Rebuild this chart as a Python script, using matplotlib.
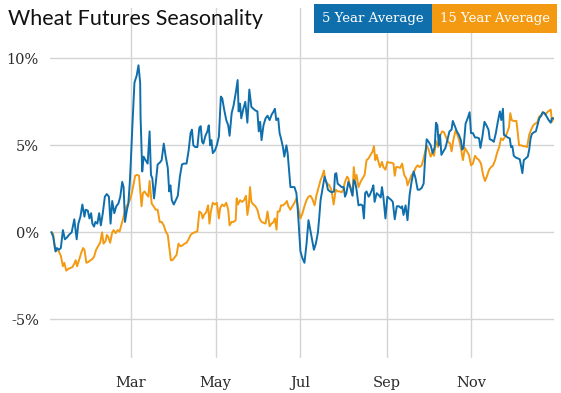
import matplotlib
matplotlib.use('Agg')
import matplotlib.pyplot as plt
from matplotlib.patches import Rectangle

# day of year -> cumulative % change
five_day = [1.8, 3.0, 4.7, 5.6, 7.1, 8.5, 10.0, 11.4, 12.9, 14.3, 16.3, 18.2, 19.9, 21.1, 22.6, 24.0, 25.5, 26.4,
            27.9, 29.1, 30.3, 31.2, 32.4, 33.4, 34.8, 36.1, 37.3, 38.7, 40.2, 41.6, 43.1, 44.3, 45.5, 47.0, 48.4,
            49.9, 51.3, 52.7, 53.7, 54.7, 56.1, 57.1, 58.1, 58.8, 60.0, 61.5, 63.1, 64.4, 65.6,
            65.9, 67.1, 68.1, 69.5, 71.0, 72.4, 73.4, 74.4, 75.6, 76.8, 78.2, 79.7, 81.1, 82.6, 84.0, 85.5, 86.5,
            87.4, 88.4, 89.8, 91.3, 92.7, 94.2, 95.7, 97.1, 99.0, 100.5, 101.9, 102.9, 103.9, 105.3, 106.8, 108.2,
            109.2, 110.2, 111.1, 112.6, 114.0, 115.0, 116.0, 116.9, 117.9, 119.4, 120.8, 122.3, 123.7, 124.7,
            126.1, 127.6, 129.0, 130.0, 131.5, 132.9, 134.4,
            135.8, 136.5, 137.5, 138.4, 139.9, 141.3, 142.8, 144.2, 145.7, 147.1, 148.6, 150.0, 151.0, 152.0,
            153.0, 154.4, 155.9, 157.3, 158.8, 160.2, 161.7, 162.6, 163.6, 165.0, 166.0, 167.0, 168.4, 169.4,
            170.9, 171.8, 172.8, 173.8, 175.2, 176.7, 178.1, 179.1, 180.1, 181.0, 182.5, 183.9, 185.4, 186.8,
            188.3, 189.7, 190.7, 192.1, 193.6, 194.6, 195.5, 197.0, 198.4, 199.9, 200.8, 202.3, 203.7, 205.2,
            205.9, 206.8, 207.8, 209.3, 210.7, 212.2, 213.1, 214.1, 215.5, 217.0, 218.5, 219.4, 220.4, 221.4,
            222.8, 224.3, 225.7, 226.7, 227.6, 228.6, 230.1, 231.0, 232.5, 233.5, 234.4, 235.9, 237.3, 238.8,
            239.7, 240.7, 242.2, 243.6, 245.1, 246.5, 247.5, 248.9, 250.4, 251.8, 253.3, 254.2, 255.2, 256.7,
            258.1, 259.6, 261.0, 262.5, 263.9, 265.4, 266.8, 268.3, 269.7, 270.7,
            271.9, 273.3, 274.8, 276.2, 277.7, 278.6, 279.6, 280.6, 281.5, 282.5, 283.9, 285.4, 286.8, 288.3,
            289.8, 290.7, 292.2, 293.6, 295.1, 296.5, 297.5, 298.5, 299.9, 301.4, 302.8, 303.8, 305.2, 306.7,
            308.1, 309.6, 310.6, 312.0, 313.5, 314.9, 316.4, 317.3, 318.8, 320.2, 321.7, 323.1, 324.6,
            325.6, 326.8, 327.5, 328.8, 330.2, 331.7, 332.6, 333.6, 334.6, 336.0, 337.5, 338.9, 339.9, 340.8,
            341.8, 343.3, 344.7, 345.7, 346.7, 347.6, 349.1, 350.5, 351.5, 352.9, 354.4, 355.4, 356.8, 358.3,
            359.7, 361.2, 362.1, 363.1]
five_pct = [0.0, -0.25, -1.1, -0.9, -1.0, -0.9, 0.13, -0.4, -0.3, -0.15, 0.0, 0.75, -0.4, 0.5, 0.9, 1.6, 0.9, 1.3,
            1.25, 0.8, 1.1, 0.5, 0.33, 0.6, 0.5, 1.1, 0.4, 1.1, 2.05, 2.2, 2.05, 0.5, 1.8, 1.1, 1.5,
            1.65, 2.05, 2.9, 2.6, 0.6, 1.3, 1.65, 2.8, 3.9, 6.1, 8.6, 9.0, 9.6, 8.6,
            6.65, 3.5, 4.35, 4.15, 3.95, 5.8, 3.3, 3.1, 1.95, 2.8, 3.9, 4.0, 4.15, 5.1, 4.35, 3.7, 2.35,
            2.7, 1.85, 1.6, 1.85, 2.1, 3.2, 3.9, 3.95, 3.95, 4.7, 5.7, 5.9, 5.0, 4.9, 4.9, 6.0,
            6.1, 5.2, 5.1, 5.55, 5.8, 6.15, 5.0, 5.3, 4.55, 4.7, 5.0, 5.5, 7.8, 7.7,
            7.05, 6.45, 6.15, 5.55, 6.85, 7.3, 8.0,
            8.75, 6.95, 7.4, 6.55, 7.1, 7.5, 6.3, 8.2, 7.2, 7.1, 7.0, 6.95, 5.8, 6.35,
            5.3, 6.15, 6.55, 6.7, 6.45, 6.75, 6.95, 7.1, 6.45, 6.55, 5.7, 5.4, 4.9, 4.35,
            5.0, 4.55, 3.6, 2.6, 2.6, 2.6, 2.25, 1.3, 0.05, -1.1, -1.5, -1.75, -0.65, 0.7,
            0.05, -0.55, -1.0, -0.65, 0.0, 0.9, 1.85, 2.55, 3.2, 2.8, 2.45, 2.35, 2.3, 2.35,
            3.35, 3.4, 2.8, 2.7, 2.6, 2.6, 2.05, 2.25, 2.9, 2.55, 2.1, 3.0, 2.9, 2.45,
            1.55, 1.6, 1.55, 0.8, 2.25, 2.35, 2.05, 2.15, 2.45, 2.7, 1.75, 2.25, 2.15, 2.0,
            2.6, 2.05, 0.8, 2.05, 1.95, 1.85, 1.75, 0.75, 1.5, 1.5, 1.4, 1.5, 1.0, 1.55,
            0.7, 2.15, 2.9, 3.5, 3.1, 2.45, 2.45, 2.55, 2.8, 4.15,
            5.35, 5.2, 5.0, 4.55, 4.9, 6.3, 6.15, 5.0, 5.6, 4.45, 4.65, 4.85, 5.3, 5.8,
            5.9, 6.4, 6.1, 5.8, 5.6, 5.3, 4.75, 4.9, 6.25, 6.55, 6.9, 5.7, 5.7, 5.45,
            5.45, 5.4, 4.85, 5.5, 6.35, 6.15, 5.9, 5.35, 5.3, 5.2, 5.7, 6.35, 6.95,
            6.45, 7.1, 5.6, 5.55, 5.45, 5.4, 4.9, 4.95, 4.4, 4.3, 4.25, 4.2, 3.8, 3.4,
            4.15, 4.25, 4.35, 4.75, 5.4, 5.65, 5.75, 5.8, 6.1, 6.55, 6.7, 6.9, 6.85, 6.65,
            6.45, 6.3, 6.55, 6.55]

fifteen_day = [1.8, 3.0, 4.2, 5.6, 7.1, 8.5, 10.0, 11.0, 12.4, 13.9, 15.3, 16.8, 18.2, 19.2, 20.2, 21.6, 23.1,
               24.5, 25.5, 26.9, 28.4, 29.8, 31.0, 32.4, 33.9, 35.3, 36.8, 38.2, 39.2, 40.7, 41.6, 42.6, 44.0,
               45.5, 46.5, 47.9, 49.4, 50.8, 52.3, 53.7, 55.2, 56.6, 58.1, 59.0, 60.5, 62.0, 63.4, 64.8,
               66.6, 67.6, 68.8, 70.0, 71.5, 72.4, 73.9, 75.3, 76.8, 78.2, 79.7, 81.1, 82.6, 84.0, 85.5, 86.5,
               87.7, 88.9, 90.3, 91.8, 93.2, 94.7, 96.1, 97.6, 99.0, 100.5, 101.9, 103.4, 104.8, 106.8, 108.2,
               109.7, 110.6, 111.6, 113.1, 114.5, 115.5, 116.5, 117.9, 119.4, 120.8, 122.3, 123.2, 124.7, 126.1,
               127.6, 129.0, 130.0, 131.5, 132.9, 134.4,
               135.1, 136.0, 137.5, 138.9, 140.4, 141.8, 142.8, 143.8, 144.7, 145.7, 147.1, 148.6, 150.0, 151.5,
               153.0, 154.4, 155.9, 157.3, 158.8, 160.2, 161.7, 162.6, 163.8, 164.6, 166.0, 167.0, 168.4, 169.9,
               171.3, 172.3, 173.8, 175.2, 176.7, 178.1, 179.6, 181.0, 182.5, 183.9, 185.4, 186.8, 188.3, 189.7,
               191.2, 192.6, 194.1, 195.5, 197.0, 197.9, 198.9, 200.4, 201.8, 203.3,
               204.9, 206.4, 207.8, 209.3, 210.7, 211.7, 213.1, 214.6, 215.5, 217.0, 218.5, 219.4, 220.4, 221.4,
               222.8, 224.3, 225.7, 227.2, 228.6, 230.1, 231.5, 233.0, 233.9, 234.9, 235.9, 237.3, 238.3, 239.7,
               240.7, 242.2, 243.6, 245.1, 246.5, 248.0, 248.9, 249.9, 251.3, 252.8, 254.2, 255.7, 257.2, 258.1,
               259.6, 261.0, 262.5, 263.9, 265.4, 266.8, 268.3, 269.7, 271.2,
               271.9, 273.3, 274.8, 276.2, 277.2, 278.6, 280.1, 281.5, 283.0, 284.4, 285.9, 287.3, 288.8, 289.8,
               291.2, 292.7, 294.1, 295.6, 296.5, 298.0, 299.4, 300.9, 302.3, 303.8, 305.2, 306.7, 308.1, 309.6,
               311.0, 312.5, 313.9, 315.4, 316.8, 318.3, 319.7, 321.2, 322.7, 324.1,
               325.4, 326.8, 328.3, 329.7, 331.2, 332.1, 333.1, 334.6, 336.5, 337.5, 338.4, 339.9, 341.3, 342.8,
               344.2, 345.7, 347.1, 348.6, 350.0, 351.5, 352.9, 354.4, 355.8, 357.3, 358.7, 360.2, 361.2, 362.1,
               363.1]
fifteen_pct = [0.0, -0.1, -0.9, -1.0, -1.1, -1.35, -1.95, -1.75, -2.2, -2.1, -2.05, -2.0, -1.8, -1.6, -1.95, -1.6,
               -1.2, -0.9, -1.0, -1.75, -1.7, -1.6, -1.55, -1.4, -1.0, -0.8, -0.6, 0.0, -0.65, -0.5, -0.15, -0.25,
               -0.6, 0.0, 0.13, -0.05, 0.13, 0.05, 0.5, 0.9, 1.4, 1.6, 1.85, 2.05, 2.6, 3.25, 3.3, 3.25,
               1.5, 2.25, 2.35, 2.2, 2.05, 2.95, 1.65, 1.5, 1.3, 1.3, 0.6, 0.6, 0.4, 0.05, -0.15, -0.8,
               -1.6, -1.6, -1.45, -1.3, -0.65, -0.8, -0.75, -0.65, -0.6, -0.4, -0.15, -0.05, 0.0, 0.05, 1.2,
               1.1, 0.8, 1.0, 1.15, 1.55, 0.5, 1.2, 1.7, 1.6, 1.7, 0.8, 1.4, 1.6, 1.5,
               1.7, 1.3, 0.4, 0.6, 0.6, 0.7,
               1.95, 1.6, 1.85, 1.75, 1.85, 2.1, 1.0, 1.5, 2.6, 1.75, 1.6, 1.5, 1.3, 0.8,
               0.6, 0.55, 0.5, 1.2, 0.35, 0.5, 0.6, 0.8, 0.15, 1.2, 1.2, 1.55, 1.55, 1.65,
               1.8, 1.5, 1.3, 1.5, 1.7, 1.95, 1.3, 0.8, 1.1, 1.5, 1.85, 2.05, 2.1, 1.9,
               1.55, 2.15, 2.6, 3.0, 3.3, 3.55, 3.0, 2.8, 2.7, 2.45,
               1.6, 2.45, 2.35, 2.35, 2.3, 2.45, 2.9, 3.2, 3.1, 2.6, 2.15, 3.75, 3.0, 3.3,
               2.6, 2.9, 3.1, 3.3, 4.15, 4.25, 4.45, 4.65, 4.95, 4.15, 4.45, 4.0, 3.75, 4.05,
               3.75, 3.6, 4.05, 4.0, 4.0, 3.95, 3.25, 3.75, 3.75, 3.7, 3.95, 3.3, 3.1, 2.7,
               3.0, 3.3, 3.4, 3.7, 3.85, 3.75, 3.85, 4.25, 4.75,
               5.0, 4.75, 4.35, 4.6, 4.4, 5.25, 4.9, 5.55, 5.8, 5.75, 5.45, 5.2, 5.1, 4.65,
               5.35, 5.85, 5.6, 5.2, 4.85, 4.15, 4.85, 4.65, 4.45, 3.85, 3.95, 4.4, 4.25, 4.15,
               3.95, 3.3, 2.95, 3.25, 3.6, 3.75, 3.85, 4.15, 4.6, 4.9,
               5.4, 5.3, 5.5, 5.7, 6.05, 6.85, 6.45, 6.4, 6.4, 5.7, 5.0, 5.0, 4.95, 4.95,
               4.9, 5.6, 5.9, 6.15, 6.25, 6.3, 6.65, 6.75, 6.9, 6.75, 6.9, 7.0, 7.05, 6.35,
               6.55]

month_days = [59, 120, 181, 243, 304]
month_labels = ['Mar', 'May', 'Jul', 'Sep', 'Nov']
pct_ticks = [-5, 0, 5, 10]
pct_labels = ['-5%', '0%', '5%', '10%']

BLUE = '#0f6fad'
ORANGE = '#f39a12'
W, H = 561, 393

fig = plt.figure(figsize=(W / 100, H / 100), dpi=100)
ax = fig.add_axes([50 / W, 1 - 358 / H, 503.5 / W, 350 / H])

ax.plot(fifteen_day, fifteen_pct, color=ORANGE, lw=1.4, zorder=3)
ax.plot(five_day, five_pct, color=BLUE, lw=1.4, zorder=4)

ax.set_xlim(0.7, 363.2)
ax.set_ylim(-7.22, 12.89)
ax.set_xticks(month_days)
ax.set_xticklabels(month_labels)
ax.set_yticks(pct_ticks)
ax.set_yticklabels(pct_labels)
ax.grid(True, color='#d4d4d4', lw=1)
ax.set_axisbelow(True)
for s in ax.spines.values():
    s.set_visible(False)
ax.tick_params(axis='both', length=0, labelsize=10.5, labelcolor='#2a2a2a')
ax.tick_params(axis='y', pad=8)
ax.tick_params(axis='x', pad=13)
for lab in ax.get_xticklabels() + ax.get_yticklabels():
    lab.set_family('DejaVu Serif')

fig.text(8 / W, 1 - 19 / H, 'Wheat Futures Seasonality', fontsize=15.5, family='Lato',
         color='#111111', va='center', ha='left')

# legend boxes
boxes = [(314, 432, BLUE, '5 Year Average'), (432, 557, ORANGE, '15 Year Average')]
for x0, x1, col, txt in boxes:
    fig.add_artist(Rectangle((x0 / W, 1 - 33 / H), (x1 - x0) / W, 29 / H,
                             transform=fig.transFigure, color=col, lw=0))
    fig.text((x0 + x1) / 2 / W, 1 - 18.5 / H, txt, color='white', fontsize=9.5,
             family='DejaVu Serif', ha='center', va='center')

fig.savefig('out.png', dpi=100)
